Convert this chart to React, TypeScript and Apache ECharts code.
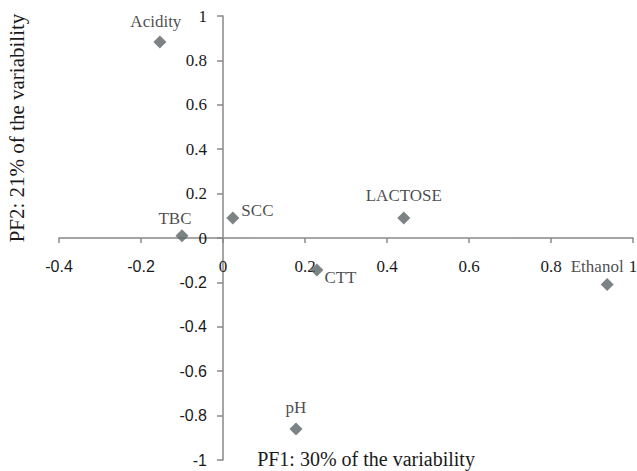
import React, { useEffect, useRef } from "react";
import * as echarts from "echarts";

const names = ["Acidity", "TBC", "SCC", "LACTOSE", "CTT", "Ethanol", "pH"];
const pf1 = [-0.154, -0.1, 0.024, 0.441, 0.229, 0.937, 0.178];
const pf2 = [0.883, 0.01, 0.09, 0.09, -0.144, -0.21, -0.86];
const xTitle = "PF1: 30% of the variability";
const yTitle = "PF2: 21% of the variability";

const labelPos: Record<string, any> = {
  Acidity: { position: "top", distance: 5, offset: [-4, 0] },
  TBC: { position: "top", distance: 2, offset: [-7, 0] },
  SCC: { position: "right", distance: 2, offset: [0, -8] },
  LACTOSE: { position: "top", distance: 8, offset: [0, 0] },
  CTT: { position: "right", distance: 1, offset: [0, 8] },
  Ethanol: { position: "top", distance: 3, offset: [-10, 0] },
  pH: { position: "top", distance: 6, offset: [0, 0] },
};

const SERIF = "Liberation Serif";
const SANS = "Liberation Sans";

const fmt = (v: number) => {
  const r = Math.round(v * 10) / 10;
  return r < 0 ? `{neg|${r}}` : `{pos|${r}}`;
};

export default function App() {
  const ref = useRef<HTMLDivElement>(null);
  useEffect(() => {
    if (!ref.current) return;
    const chart = echarts.init(ref.current, null, { renderer: "svg" });
    const axisColor = "#888888";
    const rich = {
      neg: { fontFamily: SANS, fontSize: 16, color: "#1a1a1a" },
      pos: { fontFamily: SERIF, fontSize: 17, color: "#1a1a1a" },
    };
    const data = names.map((n, i) => ({
      value: [pf1[i], pf2[i]],
      name: n,
      label: { show: true, formatter: n, ...labelPos[n] },
    }));
    chart.setOption({
      animation: false,
      backgroundColor: "#ffffff",
      textStyle: { fontFamily: SERIF },
      grid: {
        left: 59,
        right: 4,
        top: 16,
        bottom: 11,
        containLabel: false,
        outerBoundsMode: "none",
      },
      xAxis: {
        type: "value",
        min: -0.4,
        max: 1,
        interval: 0.2,
        position: "bottom",
        offset: -222,
        splitLine: { show: false },
        axisLine: { onZero: false, lineStyle: { color: axisColor, width: 1.5 } },
        axisTick: { show: true, length: 5, lineStyle: { color: axisColor, width: 1.5 } },
        axisLabel: {
          margin: 20,
          showMinLabel: true,
          showMaxLabel: true,
          hideOverlap: false,
          formatter: fmt,
          rich,
        },
      },
      yAxis: {
        type: "value",
        min: -1,
        max: 1,
        interval: 0.2,
        position: "left",
        offset: -164,
        splitLine: { show: false },
        axisLine: { onZero: false, lineStyle: { color: axisColor, width: 1.5 } },
        axisTick: { show: true, length: 6, lineStyle: { color: axisColor, width: 1.5 } },
        axisLabel: {
          margin: 16,
          showMinLabel: true,
          showMaxLabel: true,
          hideOverlap: false,
          formatter: fmt,
          rich,
        },
      },
      series: [
        {
          type: "scatter",
          symbol: "diamond",
          symbolSize: 13,
          itemStyle: { color: "#5b6467" },
          label: { color: "#1a1a1a", fontSize: 17, fontFamily: SERIF },
          data,
        },
      ],
      graphic: [
        {
          type: "text",
          x: 366,
          y: 459,
          style: {
            text: xTitle,
            fill: "#1a1a1a",
            font: `20px ${SERIF}`,
            align: "center",
            verticalAlign: "middle",
          },
        },
        {
          type: "text",
          x: 17,
          y: 128,
          rotation: Math.PI / 2,
          style: {
            text: yTitle,
            fill: "#1a1a1a",
            font: `21px ${SERIF}`,
            align: "center",
            verticalAlign: "middle",
          },
        },
      ],
    });
    return () => chart.dispose();
  }, []);
  return (
    <div
      ref={ref}
      style={{ position: "fixed", left: 0, top: 0, width: 637, height: 471 }}
    />
  );
}
